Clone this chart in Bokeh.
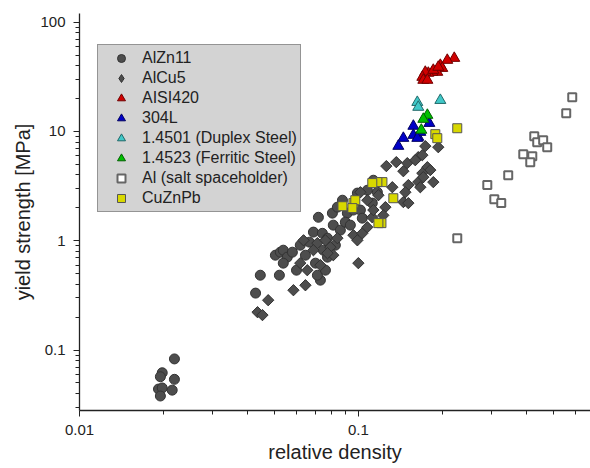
from math import pi
from bokeh.plotting import figure
from bokeh.models import Legend, LegendItem, FixedTicker, CustomJSTickFormatter, Range1d
from bokeh.embed import file_html
from bokeh.resources import INLINE

# ---------------- data ----------------
alzn11_x = [0.0219, 0.0198, 0.0195, 0.0219, 0.0192, 0.0198, 0.0215, 0.0195,
            0.0445, 0.0428, 0.0521, 0.0504, 0.0525, 0.0538, 0.0556, 0.058, 0.0538, 0.0646,
            0.069, 0.0719, 0.0743, 0.0749, 0.0775, 0.0807, 0.0775, 0.0731, 0.0713, 0.0702,
            0.0813, 0.0841, 0.0877, 0.0913, 0.096, 0.1017, 0.0992, 0.1077, 0.1122, 0.1033,
            0.117, 0.1132,
            0.0619, 0.0668, 0.06, 0.0762, 0.0827, 0.0862, 0.0898, 0.0936]
alzn11_y = [0.083, 0.062, 0.057, 0.054, 0.044, 0.045, 0.043, 0.038,
            0.484, 0.332, 0.484, 0.738, 0.786, 0.82, 0.708, 0.786, 0.624, 0.738,
            1.20, 1.64, 1.17, 0.82, 0.708, 1.79, 1.056, 0.436, 0.484, 0.624,
            1.39, 2.03, 2.35, 1.79, 1.91, 1.91, 2.73, 2.90, 2.21, 1.61,
            2.78, 3.58,
            0.911, 0.971, 0.538, 0.538, 0.911, 1.25, 1.48, 1.39]

alcu5_x = [0.0636, 0.0619, 0.0585, 0.0646, 0.0475, 0.0435, 0.0453, 0.0713, 0.0731, 0.0794,
           0.0813, 0.0775, 0.1, 0.096, 0.0992, 0.1033, 0.1077, 0.1122, 0.1132, 0.0841,
           0.0762, 0.069, 0.0656, 0.1077, 0.1017, 0.118,
           0.1935, 0.1738, 0.126, 0.1368,
           0.1498, 0.145, 0.164, 0.1696, 0.1768, 0.1811, 0.1696, 0.164, 0.1857, 0.1668,
           0.1511, 0.1474, 0.145, 0.1511, 0.1324, 0.125, 0.1229, 0.171, 0.16]
alcu5_y = [1.01, 0.624, 0.353, 0.392, 0.286, 0.222, 0.209, 0.952, 0.598, 0.874,
           0.738, 0.77, 0.624, 1.125, 1.01, 1.17, 1.33, 1.64, 1.91, 1.056,
           1.01, 0.82, 0.538, 2.35, 2.78, 2.61,
           7.18, 7.34, 4.82, 5.24,
           5.13, 4.33, 5.82, 6.07, 4.71, 4.43, 4.15, 3.44, 3.44, 3.09,
           3.23, 2.78, 2.26, 2.21, 3.09, 2.03, 1.71, 3.82, 5.46]

aisi420_x = [0.2208, 0.2084, 0.1968, 0.2, 0.1919, 0.1842, 0.1782, 0.1738, 0.1696, 0.171,
             0.1768, 0.1857, 0.1935]
aisi420_y = [46.8, 44.9, 40.4, 37.9, 34.9, 34.9, 34.2, 34.9, 31.4, 29.5,
             29.5, 36.4, 38.8]

s304l_x = [0.1797, 0.1575, 0.145, 0.1391, 0.1575, 0.164, 0.1668, 0.1627]
s304l_y = [11.9, 11.2, 8.68, 7.34, 9.25, 8.87, 9.85, 8.68]

duplex_x = [0.1627, 0.164, 0.1968]
duplex_y = [18.5, 16.7, 19.3]

ferritic_x = [0.1768, 0.171, 0.1682]
ferritic_y = [14.1, 12.96, 10.3]

alsalt_x = [0.5848, 0.5565, 0.4274, 0.438, 0.46, 0.4757, 0.3903, 0.4205, 0.4135, 0.3447,
            0.29, 0.3073, 0.3254, 0.2263]
alsalt_y = [20.6, 14.7, 9.06, 7.98, 8.33, 7.18, 6.2, 5.94, 5.24, 3.98,
            3.23, 2.40, 2.21, 1.056]

cuznpb_x = [0.2263, 0.1888, 0.1919, 0.122, 0.1335, 0.121, 0.0877, 0.096, 0.0975, 0.0952,
            0.117, 0.1122, 0.118]
cuznpb_y = [10.7, 9.45, 8.68, 3.44, 2.45, 1.45, 2.07, 2.21, 2.35, 1.99,
            3.44, 3.37, 1.45]

x_major = [0.01, 0.1, 1]
y_major = [0.01, 0.1, 1, 10, 100]
x_minor = [m * d for d in (0.01, 0.1) for m in range(2, 10)]
y_minor = [m * d for d in (0.01, 0.1, 1, 10) for m in range(2, 10)]

# ---------------- figure ----------------
FONT = "Liberation Sans"
p = figure(width=590, height=468, x_axis_type="log", y_axis_type="log",
           x_range=Range1d(0.01, 0.68), y_range=Range1d(0.028, 120),
           output_backend="svg", toolbar_location=None,
           min_border_left=79, min_border_right=0, min_border_top=13, min_border_bottom=58)
p.outline_line_color = None
p.xgrid.visible = False
p.ygrid.visible = False
p.background_fill_color = "white"

for ax, major, minor in ((p.xaxis[0], x_major, x_minor), (p.yaxis[0], y_major, y_minor)):
    ax.ticker = FixedTicker(ticks=major, minor_ticks=minor)
    ax.formatter = CustomJSTickFormatter(code="return tick.toString();")
    ax.axis_line_color = "#222222"
    ax.axis_line_width = 1.3
    ax.major_tick_line_color = "#222222"
    ax.minor_tick_line_color = "#222222"
    ax.major_tick_out = 6
    ax.major_tick_in = 0
    ax.minor_tick_out = 4
    ax.minor_tick_in = 0
    ax.major_label_text_font = FONT
    ax.major_label_text_font_size = "15px"
    ax.major_label_text_color = "#222222"
    ax.axis_label_text_font = FONT
    ax.axis_label_text_font_size = "20px"
    ax.axis_label_text_font_style = "normal"
    ax.axis_label_text_color = "#222222"

p.xaxis.axis_label = "relative density"
p.yaxis.axis_label = "yield strength [MPa]"
p.xaxis.major_label_standoff = 8
p.xaxis.axis_label_standoff = 3
p.yaxis.major_label_standoff = 8
p.yaxis.axis_label_standoff = 3

GRAY = "#4d4d4d"
r_alzn = p.scatter(alzn11_x, alzn11_y, marker="circle", size=10,
                   fill_color=GRAY, line_color="#333333", line_width=1)
# diamond-marker twin of AlCu5, fully hidden under the rotated squares; it only
# provides the diamond symbol for the legend (legend glyphs ignore marker angle)
r_alcu_legend = p.scatter(alcu5_x, alcu5_y, marker="diamond", size=10,
                          fill_color=GRAY, line_color="#333333", line_width=1)
r_alcu = p.scatter(alcu5_x, alcu5_y, marker="square", angle=pi / 4, size=8,
                   fill_color=GRAY, line_color="#333333", line_width=1)
r_aisi = p.scatter(aisi420_x, aisi420_y, marker="triangle", size=11,
                   fill_color="#d00000", line_color="#700000", line_width=1)
r_304 = p.scatter(s304l_x, s304l_y, marker="triangle", size=11,
                  fill_color="#0000c8", line_color="#000060", line_width=1)
r_dup = p.scatter(duplex_x, duplex_y, marker="triangle", size=11,
                  fill_color="#40c8c8", line_color="#206868", line_width=1)
r_fer = p.scatter(ferritic_x, ferritic_y, marker="triangle", size=11,
                  fill_color="#00c000", line_color="#006000", line_width=1)
r_al = p.scatter(alsalt_x, alsalt_y, marker="square", size=8,
                 fill_color="white", line_color="#666666", line_width=2)
r_cu = p.scatter(cuznpb_x, cuznpb_y, marker="square", size=9,
                 fill_color="#d8d800", line_color="#555555", line_width=1)

items = [
    LegendItem(label="AlZn11", renderers=[r_alzn]),
    LegendItem(label="AlCu5", renderers=[r_alcu_legend]),
    LegendItem(label="AISI420", renderers=[r_aisi]),
    LegendItem(label="304L", renderers=[r_304]),
    LegendItem(label="1.4501 (Duplex Steel)", renderers=[r_dup]),
    LegendItem(label="1.4523 (Ferritic Steel)", renderers=[r_fer]),
    LegendItem(label="Al (salt spaceholder)", renderers=[r_al]),
    LegendItem(label="CuZnPb", renderers=[r_cu]),
]
legend = Legend(items=items, location=(18, 198),
                label_text_font=FONT, label_text_font_size="16px", label_text_color="#222222",
                glyph_width=40, glyph_height=20, label_height=20, label_standoff=1,
                spacing=0, padding=3, margin=0,
                background_fill_color="#d3d3d3", background_fill_alpha=1.0,
                border_line_color="#555555", border_line_width=1)
p.add_layout(legend)

open("out.html", "w").write(file_html(p, INLINE))
